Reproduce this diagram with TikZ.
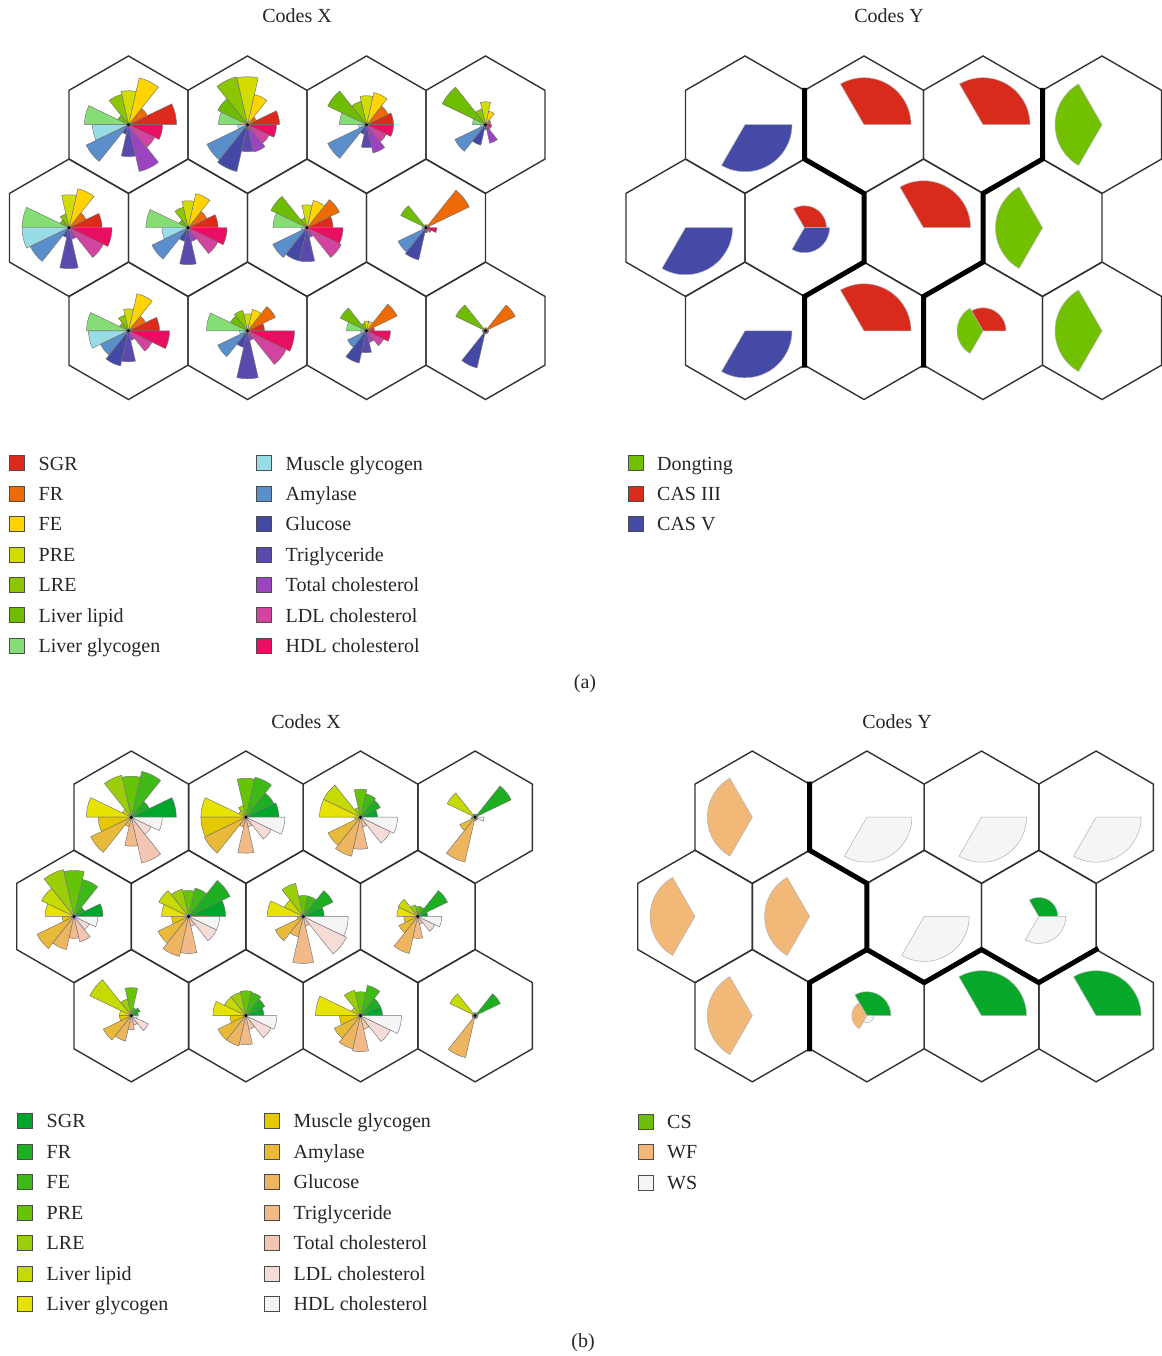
\documentclass[tikz,border=0pt]{standalone}
\usepackage{fontspec}
\setmainfont{Liberation Serif}
% top palette
\definecolor{ta1}{HTML}{DC2A1C}
\definecolor{ta2}{HTML}{EE6A04}
\definecolor{ta3}{HTML}{FFD400}
\definecolor{ta4}{HTML}{D3DC00}
\definecolor{ta5}{HTML}{8BC600}
\definecolor{ta6}{HTML}{6EBD00}
\definecolor{ta7}{HTML}{86DD75}
\definecolor{ta8}{HTML}{98DDE6}
\definecolor{ta9}{HTML}{5B8FCB}
\definecolor{ta10}{HTML}{4449A5}
\definecolor{ta11}{HTML}{5A4AAE}
\definecolor{ta12}{HTML}{9C44BF}
\definecolor{ta13}{HTML}{D244A0}
\definecolor{ta14}{HTML}{E80E62}
% bottom palette
\definecolor{tb1}{HTML}{00A62C}
\definecolor{tb2}{HTML}{1DAE22}
\definecolor{tb3}{HTML}{3EB918}
\definecolor{tb4}{HTML}{66C406}
\definecolor{tb5}{HTML}{9BCE08}
\definecolor{tb6}{HTML}{C6D900}
\definecolor{tb7}{HTML}{E8E200}
\definecolor{tb8}{HTML}{E6C800}
\definecolor{tb9}{HTML}{E9BA3A}
\definecolor{tb10}{HTML}{EDB560}
\definecolor{tb11}{HTML}{F1BA88}
\definecolor{tb12}{HTML}{F2C6B0}
\definecolor{tb13}{HTML}{F5DCD7}
\definecolor{tb14}{HTML}{F5F5F5}
% codes Y colours
\definecolor{cyg}{HTML}{72C100}
\definecolor{cyr}{HTML}{D92B1B}
\definecolor{cyb}{HTML}{444AA6}
\definecolor{csg}{HTML}{07A72A}
\definecolor{csl}{HTML}{6FBE0C}
\definecolor{wfo}{HTML}{F2B878}
\definecolor{wsw}{HTML}{F5F5F5}
\tikzset{
  hexline/.style={draw=black!80, line width=1.4pt, line join=miter},
  wedgeline/.style={draw=black!55, line width=0.45pt},
  pieline/.style={draw=black!30, line width=0.5pt},
  thickbound/.style={draw=black, line width=5pt, line join=miter, line cap=rect},
  legbox/.style={draw=black!70, line width=0.8pt},
  lab/.style={font=\fontsize{20}{24}\selectfont, inner sep=0pt, text=black!85},
}
\newcommand{\hexcell}[3]{\draw[hexline,shift={(#1,-#2)}] (30:#3) -- (90:#3) -- (150:#3) -- (210:#3) -- (270:#3) -- (330:#3) -- cycle;}
\newcommand{\rose}[4]{%
  \foreach \rosR [count=\rosI] in {#3} {%
    \pgfmathsetmacro\rosA{(\rosI-1)*360/14}%
    \pgfmathsetmacro\rosB{\rosI*360/14}%
    \edef\rosC{#4\rosI}%
    \filldraw[wedgeline, fill=\rosC] (#1,-#2) -- ++(\rosA:\rosR) arc[start angle=\rosA, end angle=\rosB, radius=\rosR] -- cycle;
  }%
  \fill[black] (#1,-#2) circle[radius=1.6];
}
\newcommand{\piesec}[6]{\filldraw[pieline, fill=#6] (#1,-#2) -- ++(#3:#5) arc[start angle=#3, end angle=#4, radius=#5] -- cycle;}
\newcommand{\legitem}[6]{%
  \filldraw[legbox, fill=#4] (#2,{-#3+7.5}) rectangle ({#2+15},{-#3-7.5});
  \node[lab, anchor=base west] (#1) at (#5,{-#3-6.7}) {#6};
}
\begin{document}
\begin{tikzpicture}[x=1pt,y=1pt]
\useasboundingbox (0,0) rectangle (1161,-1356);
\fill[white] (0,0) rectangle (1161,-1356);

% ---------- titles ----------
\node[lab, anchor=base] (titleax) at (297,-22.5) {Codes X};
\node[lab, anchor=base] (titleay) at (889,-22.5) {Codes Y};
\node[lab, anchor=base] (titlebx) at (306,-728.5) {Codes X};
\node[lab, anchor=base] (titleby) at (897,-728.5) {Codes Y};

% ---------- hex grids (a) ----------
\foreach \cx in {128.5,247.5,366.5,485.5} {\hexcell{\cx}{124.7}{68.7}\hexcell{\cx}{330.8}{68.7}}
\foreach \cx in {69,188,307,426} {\hexcell{\cx}{227.75}{68.7}}
\foreach \cx in {745,864,983,1102} {\hexcell{\cx}{124.7}{68.7}\hexcell{\cx}{330.8}{68.7}}
\foreach \cx in {685.5,804.5,923.5,1042.5} {\hexcell{\cx}{227.75}{68.7}}

% ---------- hex grids (b) ----------
\foreach \cx in {131.3,245.9,360.5,475.1} {\hexcell{\cx}{817.2}{66.16}\hexcell{\cx}{1015.68}{66.16}}
\foreach \cx in {74,188.6,303.2,417.8} {\hexcell{\cx}{916.44}{66.16}}
\foreach \cx in {752.3,866.9,981.5,1096.1} {\hexcell{\cx}{817.2}{66.16}\hexcell{\cx}{1015.68}{66.16}}
\foreach \cx in {695,809.6,924.2,1038.8} {\hexcell{\cx}{916.44}{66.16}}

% ---------- roses (a) ----------
\rose{128.5}{124.7}{48,21,48,34,31,12,44,36,47,10,32,48,29,34}{ta}
\rose{247.5}{124.7}{32,10,31,48,49,33,29,10,45,48,27,28,24,29}{ta}
\rose{366.5}{124.7}{27,24,33,29,24,43,27,8,43,10,23,29,22,27}{ta}
\rose{485.5}{124.7}{5,6,14,23,16,48,13,5,34,21,5,19,6,6}{ta}
\rose{69}{227.75}{33,19,40,33,14,10,47,47,43,10,41,12,38,43}{ta}
\rose{188}{227.75}{30,21,35,27,21,10,42,26,40,14,37,14,33,39}{ta}
\rose{307}{227.75}{26,36,28,23,10,40,34,6,38,34,34,10,38,36}{ta}
\rose{426}{227.75}{4,48,3,3,3,28,4,4,31,33,5,4,6,11}{ta}
\rose{128.5}{330.8}{31,19,38,22,16,10,42,40,31,36,31,10,26,41}{ta}
\rose{247.5}{330.8}{17,31,22,17,21,19,41,8,33,17,48,10,43,47}{ta}
\rose{366.5}{330.8}{8,34,10,10,8,29,20,6,21,33,22,12,19,24}{ta}
\rose{485.5}{330.8}{3,33,3,3,3,33,3,3,3,38,3,3,3,3}{ta}

% ---------- pies (a) Codes Y ----------
\piesec{745}{124.7}{240}{360}{47}{cyb}
\piesec{864}{124.7}{0}{120}{47}{cyr}
\piesec{983}{124.7}{0}{120}{47}{cyr}
\piesec{1102}{124.7}{120}{240}{47}{cyg}
\piesec{685.5}{227.75}{240}{360}{47}{cyb}
\piesec{804.5}{227.75}{0}{120}{22}{cyr}
\piesec{804.5}{227.75}{240}{360}{25}{cyb}
\piesec{923.5}{227.75}{0}{120}{47}{cyr}
\piesec{1042.5}{227.75}{120}{240}{47}{cyg}
\piesec{745}{330.8}{240}{360}{47}{cyb}
\piesec{864}{330.8}{0}{120}{47}{cyr}
\piesec{983}{330.8}{0}{120}{23}{cyr}
\piesec{983}{330.8}{120}{240}{26}{cyg}
\piesec{1102}{330.8}{120}{240}{47}{cyg}

% ---------- roses (b) ----------
\rose{131.3}{817.2}{45,20,47,41,43,10,45,33,45,10,29,47,22,31}{tb}
\rose{245.9}{817.2}{33,31,41,39,12,8,45,45,46,10,36,10,28,39}{tb}
\rose{360.5}{817.2}{17,22,24,28,10,41,41,6,36,40,32,10,33,37}{tb}
\rose{475.1}{817.2}{3,40,3,3,3,31,3,4,17,46,4,3,3,9}{tb}
\rose{74}{916.44}{29,12,38,46,48,36,29,12,41,34,22,26,17,24}{tb}
\rose{188.6}{916.44}{37,46,29,26,28,33,27,17,34,41,37,10,31,31}{tb}
\rose{303.2}{916.44}{21,33,21,21,34,21,36,6,31,21,47,10,48,45}{tb}
\rose{417.8}{916.44}{10,33,10,10,12,22,21,14,21,38,22,8,19,24}{tb}
\rose{131.3}{1015.68}{7,10,8,28,17,46,12,12,31,26,14,10,19,6}{tb}
\rose{245.9}{1015.68}{18,21,24,25,24,24,33,16,31,31,29,14,28,31}{tb}
\rose{360.5}{1015.68}{22,22,31,24,26,10,45,21,29,34,36,14,33,41}{tb}
\rose{475.1}{1015.68}{3,28,3,3,3,28,3,3,3,43,3,3,3,3}{tb}

% ---------- pies (b) Codes Y ----------
\piesec{752.3}{817.2}{120}{240}{45}{wfo}
\piesec{866.9}{817.2}{240}{360}{45}{wsw}
\piesec{981.5}{817.2}{240}{360}{45}{wsw}
\piesec{1096.1}{817.2}{240}{360}{45}{wsw}
\piesec{695}{916.44}{120}{240}{45}{wfo}
\piesec{809.6}{916.44}{120}{240}{45}{wfo}
\piesec{924.2}{916.44}{240}{360}{45}{wsw}
\piesec{1038.8}{916.44}{0}{120}{19}{csg}
\piesec{1038.8}{916.44}{240}{360}{27}{wsw}
\piesec{752.3}{1015.68}{120}{240}{45}{wfo}
\piesec{866.9}{1015.68}{0}{120}{24}{csg}
\piesec{866.9}{1015.68}{120}{240}{15}{wfo}
\piesec{866.9}{1015.68}{240}{360}{7}{wsw}
\piesec{981.5}{1015.68}{0}{120}{45}{csg}
\piesec{1096.1}{1015.68}{0}{120}{45}{csg}

% ---------- cluster boundaries ----------
\draw[thickbound] (804.5,-90.35) -- (804.5,-159.05) -- (864,-193.4) -- (864,-262.1) -- (804.5,-296.45) -- (804.5,-365.15);
\draw[thickbound] (1042.5,-90.35) -- (1042.5,-159.05) -- (983,-193.4) -- (983,-262.1) -- (923.5,-296.45) -- (923.5,-365.15);
\draw[thickbound] (809.6,-784.12) -- (809.6,-850.28) -- (866.9,-883.36) -- (866.9,-949.52) -- (809.6,-982.6) -- (809.6,-1048.76);
\draw[thickbound] (866.9,-949.52) -- (924.2,-982.6) -- (981.5,-949.52) -- (1038.8,-982.6) -- (1096.1,-949.52);

% ---------- legend (a) ----------
\legitem{la1}{9.5}{463.3}{ta1}{38.5}{SGR}
\legitem{la2}{9.5}{493.7}{ta2}{38.5}{FR}
\legitem{la3}{9.5}{524.1}{ta3}{38.5}{FE}
\legitem{la4}{9.5}{554.5}{ta4}{38.5}{PRE}
\legitem{la5}{9.5}{584.9}{ta5}{38.5}{LRE}
\legitem{la6}{9.5}{615.3}{ta6}{38.5}{Liver lipid}
\legitem{la7}{9.5}{645.7}{ta7}{38.5}{Liver glycogen}
\legitem{la8}{256}{463.3}{ta8}{285.5}{Muscle glycogen}
\legitem{la9}{256}{493.7}{ta9}{285.5}{Amylase}
\legitem{la10}{256}{524.1}{ta10}{285.5}{Glucose}
\legitem{la11}{256}{554.5}{ta11}{285.5}{Triglyceride}
\legitem{la12}{256}{584.9}{ta12}{285.5}{Total cholesterol}
\legitem{la13}{256}{615.3}{ta13}{285.5}{LDL cholesterol}
\legitem{la14}{256}{645.7}{ta14}{285.5}{HDL cholesterol}
\legitem{lay1}{628}{463.3}{cyg}{657}{Dongting}
\legitem{lay2}{628}{493.7}{cyr}{657}{CAS III}
\legitem{lay3}{628}{524.1}{cyb}{657}{CAS V}
\node[lab] (capa) at (585,-684) {(a)};

% ---------- legend (b) ----------
\legitem{lb1}{17}{1121}{tb1}{46.5}{SGR}
\legitem{lb2}{17}{1151.5}{tb2}{46.5}{FR}
\legitem{lb3}{17}{1182}{tb3}{46.5}{FE}
\legitem{lb4}{17}{1212.5}{tb4}{46.5}{PRE}
\legitem{lb5}{17}{1243}{tb5}{46.5}{LRE}
\legitem{lb6}{17}{1273.5}{tb6}{46.5}{Liver lipid}
\legitem{lb7}{17}{1304}{tb7}{46.5}{Liver glycogen}
\legitem{lb8}{264}{1121}{tb8}{293.5}{Muscle glycogen}
\legitem{lb9}{264}{1151.5}{tb9}{293.5}{Amylase}
\legitem{lb10}{264}{1182}{tb10}{293.5}{Glucose}
\legitem{lb11}{264}{1212.5}{tb11}{293.5}{Triglyceride}
\legitem{lb12}{264}{1243}{tb12}{293.5}{Total cholesterol}
\legitem{lb13}{264}{1273.5}{tb13}{293.5}{LDL cholesterol}
\legitem{lb14}{264}{1304}{tb14}{293.5}{HDL cholesterol}
\legitem{lby1}{638.5}{1121.5}{csl}{667}{CS}
\legitem{lby2}{638.5}{1152}{wfo}{667}{WF}
\legitem{lby3}{638.5}{1182.5}{wsw}{667}{WS}
\node[lab] (capb) at (583,-1343) {(b)};
\end{tikzpicture}
\end{document}
